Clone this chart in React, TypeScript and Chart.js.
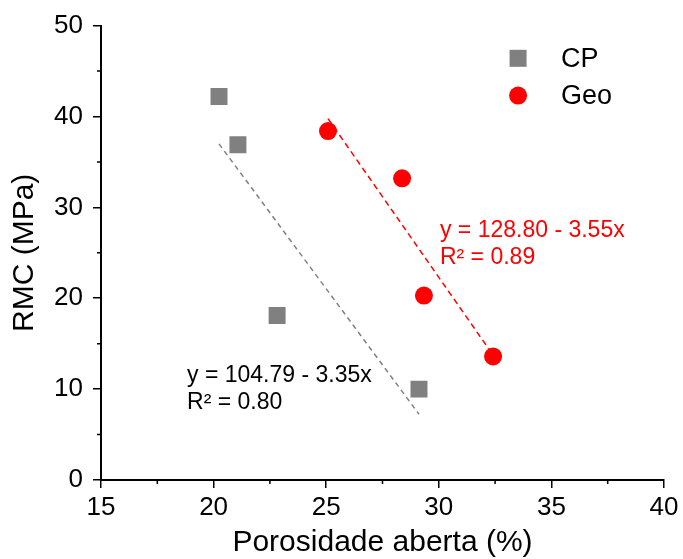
import React, { useEffect, useRef } from 'react';
import { Chart, registerables } from 'chart.js';

Chart.register(...registerables);

// ---- data ----
const seriesNames = ['CP', 'Geo'];
const cpX = [20.24, 21.08, 22.82, 29.12];
const cpY = [42.2, 36.9, 18.1, 10.0];
const geoX = [25.08, 28.37, 29.34, 32.41];
const geoY = [38.4, 33.2, 20.3, 13.6];

const fitIntercepts = [104.79, 128.8];
const fitSlopes = [-3.35, -3.55];
const fitLabelLines = [
  ['y = 104.79 - 3.35x', 'R² = 0.80'],
  ['y = 128.80 - 3.55x', 'R² = 0.89'],
];
const fitLabelX = [18.82, 30.05];
const fitLabelY = [10.77, 26.7];

const xMinorTicks = [17.5, 22.5, 27.5, 32.5, 37.5];
const yMinorTicks = [5, 15, 25, 35, 45];

const xTitle = 'Porosidade aberta (%)';
const yTitle = 'RMC (MPa)';

const GRAY = '#808080';
const RED = '#ff0000';
const FONT = "'Liberation Sans', Arial, sans-serif";

function fitLine(xs: number[], a: number, b: number) {
  const lo = Math.min(...xs);
  const hi = Math.max(...xs);
  return [
    { x: lo, y: a + b * lo },
    { x: hi, y: a + b * hi },
  ];
}

const extrasPlugin = {
  id: 'extras',
  afterDraw(chart: any) {
    const ctx = chart.ctx;
    const xs = chart.scales.x;
    const ys = chart.scales.y;
    const area = chart.chartArea;
    ctx.save();
    // minor ticks
    ctx.strokeStyle = '#000';
    ctx.lineWidth = 1.5;
    ctx.beginPath();
    xMinorTicks.forEach((v) => {
      const px = xs.getPixelForValue(v);
      ctx.moveTo(px, area.bottom);
      ctx.lineTo(px, area.bottom + 4);
    });
    yMinorTicks.forEach((v) => {
      const py = ys.getPixelForValue(v);
      ctx.moveTo(area.left, py);
      ctx.lineTo(area.left - 4, py);
    });
    ctx.stroke();

    // fit labels
    ctx.font = `23px ${FONT}`;
    ctx.textAlign = 'left';
    ctx.textBaseline = 'alphabetic';
    const colors = ['#000', RED];
    fitLabelLines.forEach((lines, i) => {
      const px = xs.getPixelForValue(fitLabelX[i]);
      const py = ys.getPixelForValue(fitLabelY[i]);
      ctx.fillStyle = colors[i];
      lines.forEach((t, j) => ctx.fillText(t, px, py + j * 27));
    });

    // legend
    const lx = xs.getPixelForValue(33.52);
    const ly0 = ys.getPixelForValue(46.4);
    const ly1 = ys.getPixelForValue(42.3);
    ctx.fillStyle = GRAY;
    ctx.fillRect(lx - 8.5, ly0 - 8.5, 17, 17);
    ctx.fillStyle = RED;
    ctx.beginPath();
    ctx.arc(lx, ly1, 9, 0, Math.PI * 2);
    ctx.fill();
    ctx.fillStyle = '#000';
    ctx.font = `27px ${FONT}`;
    ctx.textBaseline = 'middle';
    ctx.fillText(seriesNames[0], lx + 43, ly0 + 1);
    ctx.fillText(seriesNames[1], lx + 43, ly1 + 1);
    ctx.restore();
  },
};

export default function App() {
  const ref = useRef<HTMLCanvasElement | null>(null);
  useEffect(() => {
    if (!ref.current) return;
    const chart = new Chart(ref.current, {
      type: 'scatter',
      data: {
        datasets: [
          {
            label: seriesNames[0] + ' fit',
            type: 'line',
            data: fitLine(cpX, fitIntercepts[0], fitSlopes[0]),
            borderColor: GRAY,
            borderWidth: 1.5,
            borderDash: [5, 4],
            pointRadius: 0,
            fill: false,
          } as any,
          {
            label: seriesNames[1] + ' fit',
            type: 'line',
            data: fitLine(geoX, fitIntercepts[1], fitSlopes[1]),
            borderColor: RED,
            borderWidth: 1.5,
            borderDash: [6, 4],
            pointRadius: 0,
            fill: false,
          } as any,
          {
            label: seriesNames[0],
            data: cpX.map((x, i) => ({ x, y: cpY[i] })),
            pointStyle: 'rect',
            pointRadius: 12,
            backgroundColor: GRAY,
            borderColor: GRAY,
            borderWidth: 0,
          },
          {
            label: seriesNames[1],
            data: geoX.map((x, i) => ({ x, y: geoY[i] })),
            pointStyle: 'circle',
            pointRadius: 9,
            backgroundColor: RED,
            borderColor: RED,
            borderWidth: 0,
          },
        ],
      },
      options: {
        animation: false,
        responsive: false,
        maintainAspectRatio: false,
        layout: { padding: { top: 25, right: 19, left: 0, bottom: 0 } },
        plugins: { legend: { display: false }, tooltip: { enabled: false } },
        scales: {
          x: {
            type: 'linear',
            min: 15,
            max: 40,
            afterFit: (s: any) => {
              s.height = 79;
            },
            ticks: { stepSize: 5, color: '#000', font: { size: 26, family: FONT }, padding: 4 },
            grid: { display: true, drawOnChartArea: false, drawTicks: true, tickLength: 8, color: '#000', lineWidth: 1.5 },
            border: { display: true, color: '#000', width: 2 },
            title: { display: true, text: xTitle, color: '#000', font: { size: 30, family: FONT }, padding: { top: 0, bottom: -2 } },
          },
          y: {
            type: 'linear',
            min: 0,
            max: 50,
            afterFit: (s: any) => {
              s.width = 101;
            },
            ticks: { stepSize: 10, color: '#000', font: { size: 26, family: FONT }, padding: 10 },
            grid: { display: true, drawOnChartArea: false, drawTicks: true, tickLength: 8, color: '#000', lineWidth: 1.5 },
            border: { display: true, color: '#000', width: 2 },
            title: { display: true, text: yTitle, color: '#000', font: { size: 30, family: FONT }, padding: { top: 7, bottom: 0 } },
          },
        },
      },
      plugins: [extrasPlugin],
    });
    return () => chart.destroy();
  }, []);
  return (
    <div style={{ position: 'absolute', left: 0, top: 0, width: 683, height: 559, background: '#fff' }}>
      <canvas ref={ref} width={683} height={559} style={{ width: 683, height: 559, display: 'block' }} />
    </div>
  );
}
